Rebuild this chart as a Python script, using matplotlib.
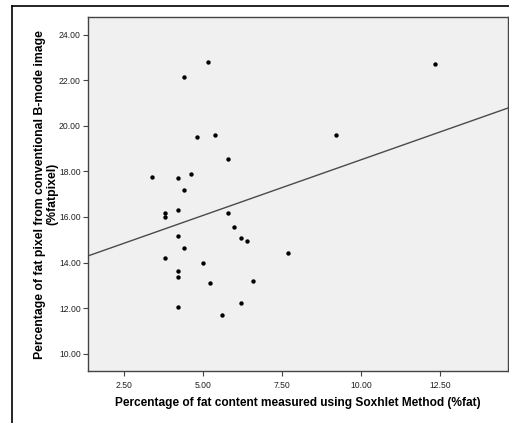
import numpy as np
import matplotlib.pyplot as plt
from matplotlib.lines import Line2D

plt.rcParams['font.family'] = ['Liberation Sans', 'DejaVu Sans']

# Soxhlet fat (%) vs fat pixel percentage from B-mode image
soxhlet = [5.15, 4.40, 4.80, 5.36, 12.35, 9.20, 5.79, 3.39, 4.19, 4.60,
           4.40, 3.80, 3.80, 4.19, 5.79, 5.99, 4.19, 6.19, 6.39, 4.40,
           3.80, 5.00, 7.69, 4.19, 4.19, 6.59, 5.20, 6.19, 4.19, 5.59]
fatpixel = [22.79, 22.13, 19.51, 19.59, 22.73, 19.61, 18.54, 17.76, 17.71, 17.90,
            17.19, 16.18, 16.00, 16.31, 16.18, 15.57, 15.17, 15.08, 14.94, 14.64,
            14.19, 14.00, 14.43, 13.64, 13.37, 13.17, 13.11, 12.22, 12.07, 11.71]

# fit line as drawn (intercept, slope)
fit_intercept = 13.63
fit_slope = 0.488

xticks = [2.5, 5.0, 7.5, 10.0, 12.5]
yticks = [10, 12, 14, 16, 18, 20, 22, 24]

fig = plt.figure(figsize=(5.09, 4.23), dpi=100)
ax = fig.add_axes([0.1723, 0.1229, 0.8257, 0.8362])
ax.set_facecolor('#f0f0f0')

xlim = (1.342, 14.65)
ylim = (9.24, 24.76)
ax.set_xlim(xlim)
ax.set_ylim(ylim)

xs = np.array(xlim)
ax.plot(xs, fit_intercept + fit_slope * xs, color='#4a4a4a', lw=1.0, zorder=2)
ax.scatter(soxhlet, fatpixel, s=10, color='black', zorder=3, linewidths=0)

ax.set_xticks(xticks)
ax.set_xticklabels([f'{v:.2f}' for v in xticks])
ax.set_yticks(yticks)
ax.set_yticklabels([f'{v:.2f}' for v in yticks])
ax.tick_params(axis='both', direction='out', length=3.5, width=0.8,
               color='#444444', labelsize=6.2, labelcolor='#222222', pad=1.5)
ax.tick_params(axis='x', pad=4)

for sp in ax.spines.values():
    sp.set_color('#444444')
    sp.set_linewidth(1.0)

ax.set_xlabel('Percentage of fat content measured using Soxhlet Method (%fat)',
              fontsize=8.6, fontweight='bold', labelpad=5)
ax.set_ylabel('Percentage of fat pixel from conventional B-mode image\n(%fatpixel)',
              fontsize=8.8, fontweight='bold', labelpad=0.5, linespacing=1.0)

# outer chart frame
fig.add_artist(Line2D([12 / 509, 12 / 509], [0, 1 - 6 / 423], color='black', lw=1.2))
fig.add_artist(Line2D([12 / 509, 1], [1 - 6 / 423, 1 - 6 / 423], color='black', lw=1.2))

fig.savefig('out.png', dpi=100)
